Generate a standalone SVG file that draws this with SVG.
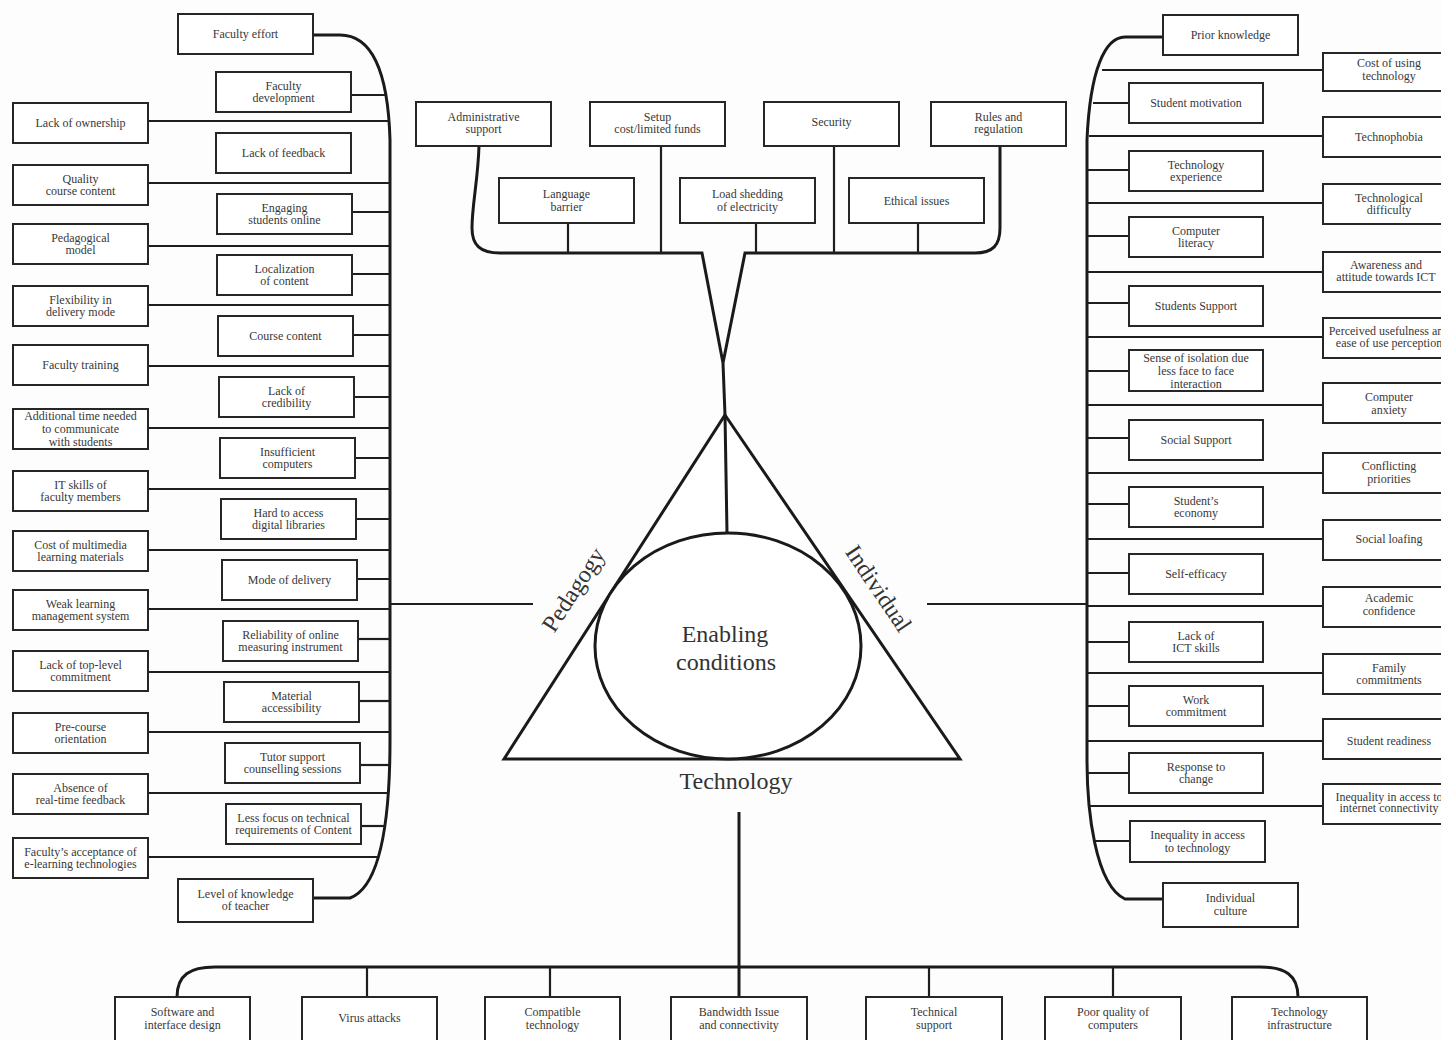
<svg xmlns="http://www.w3.org/2000/svg" width="1441" height="1040" viewBox="0 0 1441 1040">
  <style>
    .node rect { fill: #ffffff; stroke: #262626; stroke-width: 2; }
    .node text { font-family: "Liberation Serif", "Times New Roman", serif; font-size: 12px; fill: #383838; text-anchor: middle; }
    .wire { fill: none; stroke: #1e1e1e; stroke-width: 2.2; }
    .trunk { fill: none; stroke: #1a1a1a; stroke-width: 3; }
    .hub { fill: #ffffff; stroke: #1a1a1a; stroke-width: 3; }
    .big { font-family: "Liberation Serif", "Times New Roman", serif; font-size: 24px; fill: #333333; text-anchor: middle; }
  </style>
  <rect width="1441" height="1040" fill="#fdfdfd"/>

  <!-- connectors -->
  <g id="connectors">
    <!-- pedagogy spine (left) -->
    <path class="trunk" d="M313,35 L340,35 C372,35 388,70 390,140 L390,740 C390,800 385,885 350,898 L313,898"/>
    <g class="wire">
      <line x1="148" y1="121" x2="390" y2="121"/>
      <line x1="148" y1="183" x2="390" y2="183"/>
      <line x1="148" y1="246" x2="390" y2="246"/>
      <line x1="148" y1="305" x2="390" y2="305"/>
      <line x1="148" y1="366" x2="390" y2="366"/>
      <line x1="148" y1="428" x2="390" y2="428"/>
      <line x1="148" y1="489" x2="390" y2="489"/>
      <line x1="148" y1="550" x2="390" y2="550"/>
      <line x1="148" y1="609" x2="390" y2="609"/>
      <line x1="148" y1="672" x2="390" y2="672"/>
      <line x1="148" y1="732" x2="390" y2="732"/>
      <line x1="148" y1="793" x2="389" y2="793"/>
      <line x1="148" y1="857" x2="378" y2="857"/>
      <line x1="350" y1="95" x2="385" y2="95"/>
      <line x1="352" y1="212" x2="390" y2="212"/>
      <line x1="353" y1="274" x2="390" y2="274"/>
      <line x1="353" y1="335" x2="390" y2="335"/>
      <line x1="354" y1="397" x2="390" y2="397"/>
      <line x1="355" y1="458" x2="390" y2="458"/>
      <line x1="356" y1="519" x2="390" y2="519"/>
      <line x1="357" y1="579" x2="390" y2="579"/>
      <line x1="358" y1="639" x2="390" y2="639"/>
      <line x1="359" y1="701" x2="390" y2="701"/>
      <line x1="360" y1="765" x2="390" y2="765"/>
      <line x1="361" y1="826" x2="386" y2="826"/>
      <line x1="390" y1="604" x2="533" y2="604"/>
    </g>

    <!-- individual spine (right) -->
    <path class="trunk" d="M1163,37 L1125,37 C1105,37 1090,70 1087,140 L1087,760 C1087,810 1095,885 1125,899 L1163,899"/>
    <g class="wire">
      <line x1="1102" y1="70" x2="1323" y2="70"/>
      <line x1="1093" y1="103" x2="1129" y2="103"/>
      <line x1="1089" y1="136" x2="1323" y2="136"/>
      <line x1="1087" y1="170" x2="1129" y2="170"/>
      <line x1="1087" y1="203" x2="1323" y2="203"/>
      <line x1="1087" y1="236" x2="1129" y2="236"/>
      <line x1="1087" y1="272" x2="1323" y2="272"/>
      <line x1="1087" y1="303" x2="1129" y2="303"/>
      <line x1="1087" y1="337" x2="1323" y2="337"/>
      <line x1="1087" y1="371" x2="1129" y2="371"/>
      <line x1="1087" y1="405" x2="1323" y2="405"/>
      <line x1="1087" y1="438" x2="1129" y2="438"/>
      <line x1="1087" y1="473" x2="1323" y2="473"/>
      <line x1="1087" y1="504" x2="1129" y2="504"/>
      <line x1="1087" y1="539" x2="1323" y2="539"/>
      <line x1="1087" y1="573" x2="1129" y2="573"/>
      <line x1="1087" y1="606" x2="1323" y2="606"/>
      <line x1="1087" y1="642" x2="1129" y2="642"/>
      <line x1="1087" y1="673" x2="1323" y2="673"/>
      <line x1="1087" y1="706" x2="1129" y2="706"/>
      <line x1="1087" y1="741" x2="1323" y2="741"/>
      <line x1="1087" y1="773" x2="1129" y2="773"/>
      <line x1="1088" y1="806" x2="1323" y2="806"/>
      <line x1="1095" y1="841" x2="1130" y2="841"/>
      <line x1="927" y1="604" x2="1087" y2="604"/>
    </g>

    <!-- enabling-conditions fork (top) -->
    <path class="trunk" d="M479,146 C478,180 472,205 472,228 C472,245 480,253 500,253 L702,253 L723,363 L745,253 L975,253 C993,253 1000,245 1000,228 L1000,146"/>
    <path class="trunk" d="M723,363 L725,415"/>
    <g class="wire">
      <line x1="568" y1="223" x2="568" y2="253"/>
      <line x1="661" y1="146" x2="661" y2="253"/>
      <line x1="756" y1="223" x2="756" y2="253"/>
      <line x1="834" y1="146" x2="834" y2="253"/>
      <line x1="918" y1="223" x2="918" y2="253"/>
    </g>

    <!-- technology bar (bottom) -->
    <path class="trunk" d="M739,812 L739,997"/>
    <path class="trunk" d="M177,997 C177,975 190,967 215,967 L1260,967 C1285,967 1298,975 1298,997"/>
    <g class="wire">
      <line x1="367" y1="967" x2="367" y2="997"/>
      <line x1="550" y1="967" x2="550" y2="997"/>
      <line x1="929" y1="967" x2="929" y2="997"/>
      <line x1="1113" y1="967" x2="1113" y2="997"/>
    </g>
  </g>

  <!-- central hub -->
  <g id="hub">
    <polygon class="hub" points="725,415 960,759 504,759"/>
    <line x1="725" y1="415" x2="727" y2="533" stroke="#1a1a1a" stroke-width="3"/>
    <ellipse class="hub" cx="728" cy="646" rx="133" ry="113"/>
    <text class="big" x="725" y="642">Enabling</text>
    <text class="big" x="726" y="670">conditions</text>
    <text class="big" transform="translate(580,594) rotate(-57)">Pedagogy</text>
    <text class="big" transform="translate(872,593) rotate(56)">Individual</text>
    <text class="big" x="736" y="789">Technology</text>
  </g>

  <!-- pedagogy factors, outer column -->
  <g id="n-lack-ownership" class="node"><rect x="13" y="103" width="135" height="40"/><text x="80.5" y="127">Lack of ownership</text></g>
  <g id="n-quality-content" class="node"><rect x="13" y="165" width="135" height="40"/><text x="80.5" y="182.5">Quality<tspan x="80.5" dy="12.5">course content</tspan></text></g>
  <g id="n-pedagogical-model" class="node"><rect x="13" y="224" width="135" height="40"/><text x="80.5" y="241.5">Pedagogical<tspan x="80.5" dy="12.5">model</tspan></text></g>
  <g id="n-flexibility" class="node"><rect x="13" y="286" width="135" height="40"/><text x="80.5" y="303.5">Flexibility in<tspan x="80.5" dy="12.5">delivery mode</tspan></text></g>
  <g id="n-faculty-training" class="node"><rect x="13" y="345" width="135" height="40"/><text x="80.5" y="369">Faculty training</text></g>
  <g id="n-additional-time" class="node"><rect x="13" y="409" width="135" height="40"/><text x="80.5" y="419.5">Additional time needed<tspan x="80.5" dy="13">to communicate</tspan><tspan x="80.5" dy="13">with students</tspan></text></g>
  <g id="n-it-skills" class="node"><rect x="13" y="471" width="135" height="40"/><text x="80.5" y="488.5">IT skills of<tspan x="80.5" dy="12.5">faculty members</tspan></text></g>
  <g id="n-multimedia-cost" class="node"><rect x="13" y="531" width="135" height="40"/><text x="80.5" y="548.5">Cost of multimedia<tspan x="80.5" dy="12.5">learning materials</tspan></text></g>
  <g id="n-weak-lms" class="node"><rect x="13" y="590" width="135" height="40"/><text x="80.5" y="607.5">Weak learning<tspan x="80.5" dy="12.5">management system</tspan></text></g>
  <g id="n-top-level" class="node"><rect x="13" y="651" width="135" height="40"/><text x="80.5" y="668.5">Lack of top-level<tspan x="80.5" dy="12.5">commitment</tspan></text></g>
  <g id="n-pre-course" class="node"><rect x="13" y="713" width="135" height="40"/><text x="80.5" y="730.5">Pre-course<tspan x="80.5" dy="12.5">orientation</tspan></text></g>
  <g id="n-realtime-feedback" class="node"><rect x="13" y="774" width="135" height="40"/><text x="80.5" y="791.5">Absence of<tspan x="80.5" dy="12.5">real-time feedback</tspan></text></g>
  <g id="n-faculty-acceptance" class="node"><rect x="13" y="838" width="135" height="40"/><text x="80.5" y="855.5">Faculty’s acceptance of<tspan x="80.5" dy="12.5">e-learning technologies</tspan></text></g>

  <!-- pedagogy factors, inner column -->
  <g id="n-faculty-effort" class="node"><rect x="178" y="14" width="135" height="40"/><text x="245.5" y="38">Faculty effort</text></g>
  <g id="n-faculty-development" class="node"><rect x="216" y="72" width="135" height="40"/><text x="283.5" y="89.5">Faculty<tspan x="283.5" dy="12.5">development</tspan></text></g>
  <g id="n-lack-feedback" class="node"><rect x="216" y="133" width="135" height="40"/><text x="283.5" y="157">Lack of feedback</text></g>
  <g id="n-engaging" class="node"><rect x="217" y="194" width="135" height="40"/><text x="284.5" y="211.5">Engaging<tspan x="284.5" dy="12.5">students online</tspan></text></g>
  <g id="n-localization" class="node"><rect x="217" y="255" width="135" height="40"/><text x="284.5" y="272.5">Localization<tspan x="284.5" dy="12.5">of content</tspan></text></g>
  <g id="n-course-content" class="node"><rect x="218" y="316" width="135" height="40"/><text x="285.5" y="340">Course content</text></g>
  <g id="n-credibility" class="node"><rect x="219" y="377" width="135" height="40"/><text x="286.5" y="394.5">Lack of<tspan x="286.5" dy="12.5">credibility</tspan></text></g>
  <g id="n-insufficient-computers" class="node"><rect x="220" y="438" width="135" height="40"/><text x="287.5" y="455.5">Insufficient<tspan x="287.5" dy="12.5">computers</tspan></text></g>
  <g id="n-digital-libraries" class="node"><rect x="221" y="499" width="135" height="40"/><text x="288.5" y="516.5">Hard to access<tspan x="288.5" dy="12.5">digital libraries</tspan></text></g>
  <g id="n-mode-delivery" class="node"><rect x="222" y="560" width="135" height="40"/><text x="289.5" y="584">Mode of delivery</text></g>
  <g id="n-reliability" class="node"><rect x="223" y="621" width="135" height="40"/><text x="290.5" y="638.5">Reliability of online<tspan x="290.5" dy="12.5">measuring instrument</tspan></text></g>
  <g id="n-material" class="node"><rect x="224" y="682" width="135" height="40"/><text x="291.5" y="699.5">Material<tspan x="291.5" dy="12.5">accessibility</tspan></text></g>
  <g id="n-tutor-support" class="node"><rect x="225" y="743" width="135" height="40"/><text x="292.5" y="760.5">Tutor support<tspan x="292.5" dy="12.5">counselling sessions</tspan></text></g>
  <g id="n-less-focus" class="node"><rect x="226" y="804" width="135" height="40"/><text x="293.5" y="821.5">Less focus on technical<tspan x="293.5" dy="12.5">requirements of Content</tspan></text></g>
  <g id="n-teacher-knowledge" class="node"><rect x="178" y="879" width="135" height="43"/><text x="245.5" y="897.5">Level of knowledge<tspan x="245.5" dy="12.5">of teacher</tspan></text></g>

  <!-- enabling-condition factors -->
  <g id="n-admin-support" class="node"><rect x="416" y="102" width="135" height="44"/><text x="483.5" y="120.5">Administrative<tspan x="483.5" dy="12">support</tspan></text></g>
  <g id="n-setup-cost" class="node"><rect x="590" y="102" width="135" height="44"/><text x="657.5" y="120.5">Setup<tspan x="657.5" dy="12">cost/limited funds</tspan></text></g>
  <g id="n-security" class="node"><rect x="764" y="102" width="135" height="44"/><text x="831.5" y="126">Security</text></g>
  <g id="n-rules" class="node"><rect x="931" y="102" width="135" height="44"/><text x="998.5" y="120.5">Rules and<tspan x="998.5" dy="12">regulation</tspan></text></g>
  <g id="n-language" class="node"><rect x="499" y="178" width="135" height="45"/><text x="566.5" y="197.5">Language<tspan x="566.5" dy="13">barrier</tspan></text></g>
  <g id="n-load-shedding" class="node"><rect x="680" y="178" width="135" height="45"/><text x="747.5" y="197.5">Load shedding<tspan x="747.5" dy="13">of electricity</tspan></text></g>
  <g id="n-ethical" class="node"><rect x="849" y="178" width="135" height="45"/><text x="916.5" y="204.5">Ethical issues</text></g>

  <!-- individual factors, inner column -->
  <g id="n-prior-knowledge" class="node"><rect x="1163" y="15" width="135" height="40"/><text x="1230.5" y="39">Prior knowledge</text></g>
  <g id="n-motivation" class="node"><rect x="1129" y="83" width="134" height="40"/><text x="1196" y="107">Student motivation</text></g>
  <g id="n-tech-experience" class="node"><rect x="1129" y="151" width="134" height="40"/><text x="1196" y="168.5">Technology<tspan x="1196" dy="12.5">experience</tspan></text></g>
  <g id="n-computer-literacy" class="node"><rect x="1129" y="217" width="134" height="40"/><text x="1196" y="234.5">Computer<tspan x="1196" dy="12.5">literacy</tspan></text></g>
  <g id="n-students-support" class="node"><rect x="1129" y="286" width="134" height="40"/><text x="1196" y="310">Students Support</text></g>
  <g id="n-isolation" class="node"><rect x="1129" y="350" width="134" height="41"/><text x="1196" y="361.5">Sense of isolation due<tspan x="1196" dy="13">less face to face</tspan><tspan x="1196" dy="13">interaction</tspan></text></g>
  <g id="n-social-support" class="node"><rect x="1129" y="420" width="134" height="40"/><text x="1196" y="444">Social Support</text></g>
  <g id="n-economy" class="node"><rect x="1129" y="487" width="134" height="40"/><text x="1196" y="504.5">Student’s<tspan x="1196" dy="12.5">economy</tspan></text></g>
  <g id="n-self-efficacy" class="node"><rect x="1129" y="554" width="134" height="40"/><text x="1196" y="578">Self-efficacy</text></g>
  <g id="n-ict-skills" class="node"><rect x="1129" y="622" width="134" height="40"/><text x="1196" y="639.5">Lack of<tspan x="1196" dy="12.5">ICT skills</tspan></text></g>
  <g id="n-work-commitment" class="node"><rect x="1129" y="686" width="134" height="40"/><text x="1196" y="703.5">Work<tspan x="1196" dy="12.5">commitment</tspan></text></g>
  <g id="n-response-change" class="node"><rect x="1129" y="753" width="134" height="40"/><text x="1196" y="770.5">Response to<tspan x="1196" dy="12.5">change</tspan></text></g>
  <g id="n-inequality-tech" class="node"><rect x="1130" y="821" width="135" height="41"/><text x="1197.5" y="839">Inequality in access<tspan x="1197.5" dy="12.5">to technology</tspan></text></g>
  <g id="n-culture" class="node"><rect x="1163" y="883" width="135" height="44"/><text x="1230.5" y="901.5">Individual<tspan x="1230.5" dy="13">culture</tspan></text></g>

  <!-- individual factors, outer column (running past the right edge) -->
  <g id="n-cost-using" class="node"><rect x="1323" y="53" width="140" height="38"/><text x="1389" y="67">Cost of using<tspan x="1389" dy="12.5">technology</tspan></text></g>
  <g id="n-technophobia" class="node"><rect x="1323" y="117" width="140" height="40"/><text x="1389" y="141">Technophobia</text></g>
  <g id="n-tech-difficulty" class="node"><rect x="1323" y="184" width="140" height="40"/><text x="1389" y="201.5">Technological<tspan x="1389" dy="12.5">difficulty</tspan></text></g>
  <g id="n-awareness" class="node"><rect x="1323" y="252" width="140" height="40"/><text x="1386" y="268.5">Awareness and<tspan x="1386" dy="12">attitude towards ICT</tspan></text></g>
  <g id="n-perceived" class="node"><rect x="1323" y="318" width="140" height="40"/><text x="1389" y="334.5">Perceived usefulness and<tspan x="1389" dy="12">ease of use perception</tspan></text></g>
  <g id="n-computer-anxiety" class="node"><rect x="1323" y="383" width="140" height="40"/><text x="1389" y="400.5">Computer<tspan x="1389" dy="13">anxiety</tspan></text></g>
  <g id="n-priorities" class="node"><rect x="1323" y="453" width="140" height="40"/><text x="1389" y="469.5">Conflicting<tspan x="1389" dy="13">priorities</tspan></text></g>
  <g id="n-social-loafing" class="node"><rect x="1323" y="520" width="140" height="40"/><text x="1389" y="543">Social loafing</text></g>
  <g id="n-academic-confidence" class="node"><rect x="1323" y="587" width="140" height="40"/><text x="1389" y="601.5">Academic<tspan x="1389" dy="13.5">confidence</tspan></text></g>
  <g id="n-family" class="node"><rect x="1323" y="654" width="140" height="40"/><text x="1389" y="671.5">Family<tspan x="1389" dy="12">commitments</tspan></text></g>
  <g id="n-readiness" class="node"><rect x="1323" y="719" width="140" height="40"/><text x="1389" y="744.5">Student readiness</text></g>
  <g id="n-inequality-internet" class="node"><rect x="1323" y="784" width="140" height="40"/><text x="1389" y="800.5">Inequality in access to<tspan x="1389" dy="11.5">internet connectivity</tspan></text></g>

  <!-- technology factors -->
  <g id="n-software" class="node"><rect x="115" y="997" width="135" height="45"/><text x="182.5" y="1015.5">Software and<tspan x="182.5" dy="13">interface design</tspan></text></g>
  <g id="n-virus" class="node"><rect x="302" y="997" width="135" height="45"/><text x="369.5" y="1022">Virus attacks</text></g>
  <g id="n-compatible" class="node"><rect x="485" y="997" width="135" height="45"/><text x="552.5" y="1015.5">Compatible<tspan x="552.5" dy="13">technology</tspan></text></g>
  <g id="n-bandwidth" class="node"><rect x="671" y="997" width="136" height="45"/><text x="739" y="1015.5">Bandwidth Issue<tspan x="739" dy="13">and connectivity</tspan></text></g>
  <g id="n-tech-support" class="node"><rect x="866" y="997" width="136" height="45"/><text x="934" y="1015.5">Technical<tspan x="934" dy="13">support</tspan></text></g>
  <g id="n-poor-computers" class="node"><rect x="1045" y="997" width="136" height="45"/><text x="1113" y="1015.5">Poor quality of<tspan x="1113" dy="13">computers</tspan></text></g>
  <g id="n-infrastructure" class="node"><rect x="1232" y="997" width="135" height="45"/><text x="1299.5" y="1015.5">Technology<tspan x="1299.5" dy="13">infrastructure</tspan></text></g>
</svg>
